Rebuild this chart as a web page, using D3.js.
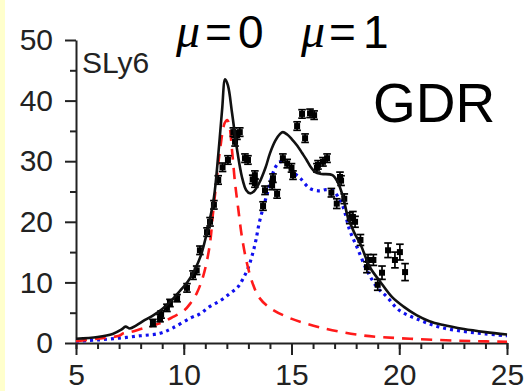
<!DOCTYPE html>
<html>
<head>
<meta charset="utf-8">
<script src="https://cdn.jsdelivr.net/npm/d3@7"></script>
<style>
  html, body { margin: 0; padding: 0; background: #fff; }
  svg { display: block; }
</style>
</head>
<body>
<svg id="chart" width="529" height="391"></svg>
<script>
// ---- data ----
const xTicks = [5, 10, 15, 20, 25];
const yTicks = [0, 10, 20, 30, 40, 50];
const xMinorTicks = d3.range(5, 26, 1);
const yMinorTicks = [5, 15, 25, 35, 45];

// total strength (solid black)
const totalCurve = [
  [5,0.7],[6,1.0],[6.7,1.5],[7.1,2.2],[7.3,2.7],[7.5,2.4],[7.8,2.9],[8.2,3.8],[8.6,4.6],
  [9.0,5.6],[9.4,6.9],[9.8,8.5],[10.2,10.2],[10.5,12],[10.8,14.5],[11.1,18.6],[11.4,24],
  [11.6,31],[11.78,38.5],[11.92,43.5],[12.05,42.5],[12.24,38],[12.47,32],[12.7,27.4],
  [12.9,25.2],[13.07,24.7],[13.25,25],[13.5,26.4],[13.8,29],[14.0,31.3],[14.25,33.4],
  [14.47,34.5],[14.6,34.8],[14.8,34.4],[15.0,33.7],[15.26,32.6],[15.5,31.3],[15.7,30.2],
  [15.9,29.0],[16.1,28.2],[16.4,27.9],[16.9,27.7],[17.15,26.5],[17.4,24],[17.6,21],
  [17.9,18.3],[18.2,16.3],[18.64,12.5],[19.1,10.2],[19.66,7.6],[20.2,6.0],[20.8,4.6],
  [21.4,3.6],[22,3.0],[23,2.3],[24,1.8],[25,1.4]
];
// mu = 0 component (red dashed)
const mu0Curve = [
  [5,0.3],[6,0.7],[7,1.2],[7.2,1.6],[7.5,1.8],[8,2.3],[8.5,2.8],[9,3.4],[9.5,4.3],[10,5.3],
  [10.3,6.5],[10.6,8.2],[10.9,11],[11.2,16],[11.36,21.5],[11.54,27.4],[11.68,31.8],
  [11.9,36.3],[12.02,36.8],[12.12,35.8],[12.24,31.8],[12.38,26.4],[12.52,22.4],[12.7,17.5],
  [12.93,13.2],[13.2,9.8],[13.5,7.5],[14,5.8],[14.93,4.1],[16.3,2.6],[18.2,1.3],
  [20.5,0.7],[23.6,0.3],[25,0.2]
];
// mu = 1 component (blue dotted)
const mu1Curve = [
  [5,0.3],[6,0.5],[7,0.8],[8,1.2],[8.9,1.6],[9.5,2.5],[10.3,4.1],[10.75,4.8],[11.2,6],
  [11.7,7],[12.15,8.2],[12.5,9.2],[12.75,10.6],[13.0,12.5],[13.2,14.8],[13.35,17],
  [13.5,19.8],[13.7,22.5],[13.86,24.5],[14.05,27],[14.25,29],[14.47,29.9],[14.7,29.7],
  [14.9,29],[15.15,28],[15.4,27.2],[15.86,25.5],[16.3,25.1],[16.6,25.3],[16.9,25.2],
  [17.15,24.2],[17.4,22.4],[17.7,18.6],[18.04,15.8],[18.5,12],[18.97,9.2],[19.43,7.6],
  [20,5.4],[21,3.7],[21.9,2.6],[23,1.9],[24,1.5],[25,1.2]
];
// experimental points: [E, value, error]
const expPoints = [
  [8.57,3.3,0.6],[8.9,4.1,0.6],[8.95,4.7,0.6],[9.22,5.8,0.6],[9.36,6.6,0.6],[9.69,7.4,0.6],
  [10.15,9.1,0.7],[10.43,11.2,0.7],[10.6,12,0.7],[10.75,15.3,0.7],[11.08,18.3,0.7],
  [11.22,20,0.7],[11.4,22.8,0.7],[11.6,26.9,0.7],[11.8,29,0.7],[12.05,30.2,0.7],
  [12.3,34.8,0.7],[12.47,34.3,0.7],[12.38,33.2,0.7],[12.6,34.8,0.7],[12.84,30.5,0.7],
  [12.98,30.2,0.7],[13.3,27.7,0.7],[13.2,27.0,0.7],[13.3,26.4,0.7],[13.77,25.2,0.7],
  [13.68,22.6,0.7],[14.14,27.2,0.7],[14.1,26,0.7],[14.33,24.6,0.7],[14.6,30.5,0.7],
  [14.8,29.6,0.7],[15.0,28.9,0.7],[15.07,27.7,0.7],[15.26,35.8,0.7],[15.49,37.8,0.7],
  [15.63,33.8,0.7],[15.86,37.9,0.7],[16.05,37.6,0.7],[16.18,28.9,0.7],[16.23,29.4,0.7],
  [16.46,29.9,0.7],[16.65,30.5,0.7],[16.85,24.8,0.7],[17.1,23.0,0.8],[17.25,27.4,0.8],
  [17.3,26.8,0.8],[17.45,23.8,0.8],[17.7,20.6,0.9],[17.85,20.8,0.9],[17.95,20,0.9],
  [18.2,17,0.9],[18.5,12.5,0.9],[18.55,13.7,0.9],[18.8,13.7,0.9],[19.0,9.6,0.9],
  [19.2,11.6,1.1],[19.48,15.3,1.2],[19.8,13.7,1.3],[20.03,15,1.3],[20.27,11.7,1.4]
];

// ---- drawing ----
const svg = d3.select("#chart");
svg.append("rect").attr("x", 0).attr("y", 0).attr("width", 5).attr("height", 391).attr("fill", "#ffffcc");

const x = d3.scaleLinear().domain([5, 25]).range([76, 507]);
const y = d3.scaleLinear().domain([0, 50]).range([343, 40]);

const axisColor = "#222";
const font = "'Liberation Sans', Arial, sans-serif";

// minor ticks
svg.append("g").attr("transform", "translate(0,343)")
  .call(d3.axisBottom(x).tickValues(xMinorTicks).tickSize(6).tickFormat(""))
  .call(g => g.select(".domain").remove());
svg.append("g").attr("transform", "translate(76,0)")
  .call(d3.axisLeft(y).tickValues(yMinorTicks).tickSize(6).tickFormat(""))
  .call(g => g.select(".domain").remove());

// major axes
svg.append("g").attr("transform", "translate(0,343)")
  .call(d3.axisBottom(x).tickValues(xTicks).tickSize(12).tickSizeOuter(0).tickPadding(9).tickFormat(d3.format("d")));
svg.append("g").attr("transform", "translate(76,0)")
  .call(d3.axisLeft(y).tickValues(yTicks).tickSize(11).tickSizeOuter(0).tickPadding(12).tickFormat(d3.format("d")));

svg.selectAll(".tick line, .domain").attr("stroke", axisColor).attr("stroke-width", 2);
svg.selectAll(".tick text").attr("font-family", font).attr("font-size", 30).attr("fill", "#222");

// curves
const line = d3.line().x(d => x(d[0])).y(d => y(d[1])).curve(d3.curveCatmullRom.alpha(0.5));

svg.append("path").datum(mu1Curve).attr("d", line)
  .attr("fill", "none").attr("stroke", "#1010ee").attr("stroke-width", 3.2)
  .attr("stroke-dasharray", "3,4");
svg.append("path").datum(mu0Curve).attr("d", line)
  .attr("fill", "none").attr("stroke", "#ff1a1a").attr("stroke-width", 2.6)
  .attr("stroke-dasharray", "11,8");

// experimental points
const pts = svg.append("g");
const cap = 3.8;
expPoints.forEach(([e, v, err]) => {
  const cx = x(e), cy = y(v), y1 = y(v + err), y2 = y(v - err);
  pts.append("line").attr("x1", cx).attr("x2", cx).attr("y1", y1).attr("y2", y2)
    .attr("stroke", "#000").attr("stroke-width", 1.7);
  pts.append("line").attr("x1", cx - cap).attr("x2", cx + cap).attr("y1", y1).attr("y2", y1)
    .attr("stroke", "#000").attr("stroke-width", 1.7);
  pts.append("line").attr("x1", cx - cap).attr("x2", cx + cap).attr("y1", y2).attr("y2", y2)
    .attr("stroke", "#000").attr("stroke-width", 1.7);
  pts.append("rect").attr("x", cx - 3).attr("y", cy - 3).attr("width", 6).attr("height", 6).attr("fill", "#000");
});

svg.append("path").datum(totalCurve).attr("d", line)
  .attr("fill", "none").attr("stroke", "#111").attr("stroke-width", 2.6);

// labels
svg.append("text").attr("x", 82).attr("y", 73).attr("font-family", font).attr("font-size", 30)
  .attr("fill", "#222").text("SLy6");
svg.append("text").attr("x", 373).attr("y", 122).attr("font-family", font).attr("font-size", 55)
  .attr("fill", "#000").text("GDR");

function muLabel(xMu, xEq, xVal, val) {
  svg.append("text").attr("x", xMu).attr("y", 47).attr("font-family", "'Liberation Serif', 'Times New Roman', serif")
    .attr("font-style", "italic").attr("font-size", 48).attr("fill", "#000").text("μ");
  svg.append("text").attr("x", xEq).attr("y", 48).attr("font-family", font)
    .attr("font-size", 46).attr("fill", "#000").text("=");
  svg.append("text").attr("x", xVal).attr("y", 48).attr("font-family", font)
    .attr("font-size", 46).attr("fill", "#000").text(val);
}
muLabel(176, 205, 238, "0");
muLabel(301, 329, 363, "1");
</script>
</body>
</html>
